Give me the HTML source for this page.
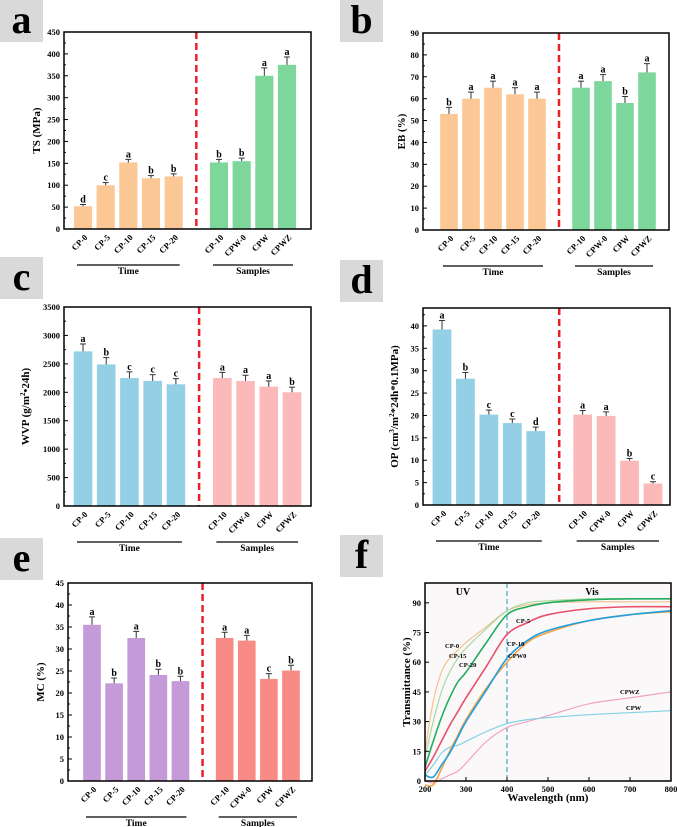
<!DOCTYPE html>
<html><head><meta charset="utf-8"><style>
body{margin:0;background:#fff;}
svg{display:block;font-family:"Liberation Serif",serif;font-weight:bold;}
</style></head><body>
<svg id="fig" width="677" height="827" viewBox="0 0 677 827" xmlns="http://www.w3.org/2000/svg"></svg>
<script>
const cats = ["CP-0","CP-5","CP-10","CP-15","CP-20","CP-10","CPW-0","CPW","CPWZ"];
const tsVals = [52,100,152,116,120,152,155,350,375];
const tsErr = [4,6,7,6,6,7,7,18,18];
const tsSig = ["d","c","a","b","b","b","b","a","a"];
const ebVals = [53,60,65,62,60,65,68,58,72];
const ebErr = [3,3,3,3,3,3,3,3,4];
const ebSig = ["b","a","a","a","a","a","a","b","a"];
const wvpVals = [2720,2490,2250,2200,2140,2250,2200,2100,2000];
const wvpErr = [130,120,110,110,100,100,100,100,90];
const wvpSig = ["a","b","c","c","c","a","a","a","b"];
const opVals = [39.2,28.2,20.2,18.3,16.5,20.2,19.9,9.9,4.8];
const opErr = [2,1.4,1,0.9,0.9,0.9,0.9,0.5,0.4];
const opSig = ["a","b","c","c","d","a","a","b","c"];
const mcVals = [35.5,22.2,32.5,24.1,22.7,32.5,31.9,23.2,25.1];
const mcErr = [1.8,1.2,1.5,1.3,1.1,1.3,1.2,1.2,1.2];
const mcSig = ["a","b","a","b","b","a","a","c","b"];

const wl = [200,220,240,260,280,300,350,400,450,500,600,700,800];
const tCP0 = [15,40,55,62,66,70,78,86,89,90,90.5,90.5,90.5];
const tCP15 = [12,30,45,55,62,67,77,86,90,91,92,92,92];
const tCP20 = [7,20,32,42,50,55,70,84,88,90,91.5,92,92];
const tCP5 = [5,12,20,28,35,42,58,74,80,84,87,88,88];
const tCP10 = [3,2,8,14,22,30,46,62,71,76,81,84,86];
const tCPW0 = [-2,-2,6,15,23,31,47,60,70,75,81,84,85.5];
const tCPW = [3,8,14,17,18,20,25,29,31,32,33.5,34.5,35.5];
const tCPWZ = [0,-1,1,3,5,9,20,27,30,33,39,42,45];

const NS="http://www.w3.org/2000/svg";
const svg=document.getElementById('fig');
function el(tag,attrs,parent,text){const e=document.createElementNS(NS,tag);for(const k in attrs)e.setAttribute(k,attrs[k]);if(text!==undefined)e.textContent=text;(parent||svg).appendChild(e);return e;}

function panelLabel(letter,x,y){
  const g=el('g',{});
  
  
  el('rect',{x:x,y:y,width:43,height:42,fill:'#d9d9d9'},g);
  el('text',{x:x+21.5,y:y+33,'text-anchor':'middle','font-size':40,fill:'#000'},g,letter);
}

function barPanel(name,L,R,T,B,ymax,step,minorStep,vals,errs,sigs,c0,c9,colA,colB,ylabel,ylx){
  const g=el('g',{});
  
  
  const ys=v=>B-(v/ymax)*(B-T);
  const slot=(c9-c0)/9;
  const xs=i=>c0+(i<5?i:i+1)*slot;
  const bw=slot*0.8;
  for(let v=0;v<=ymax+1e-9;v+=minorStep){
    const y=ys(v);
    el('line',{x1:L,x2:L+(Math.abs(v/step-Math.round(v/step))<1e-6?4:2),y1:y,y2:y,stroke:'#000','stroke-width':1},g);
  }
  for(let v=0;v<=ymax+1e-9;v+=step){
    const t=el('text',{x:L-4,y:ys(v)+3,'text-anchor':'end','font-size':8.5},g,String(v));
    
    
  }
  vals.forEach((v,i)=>{
    const x=xs(i);
    const r=el('rect',{x:x-bw/2,y:ys(v),width:bw,height:B-ys(v),fill:i<5?colA:colB},g);
    
    
    const yt=ys(v+errs[i]);
    el('line',{x1:x,x2:x,y1:ys(v),y2:yt,stroke:'#333','stroke-width':1},g);
    el('line',{x1:x-3,x2:x+3,y1:yt,y2:yt,stroke:'#333','stroke-width':1},g);
    const s=el('text',{x:x,y:yt-2,'text-anchor':'middle','font-size':10},g,sigs[i]);
    
    
    const c=el('text',{x:x+5,y:B+9,'text-anchor':'end','font-size':8.5,transform:`rotate(-45 ${x+5} ${B+9})`},g,cats[i]);
    
    
  });
  const dx=c0+5*slot;
  const d=el('line',{x1:dx,x2:dx,y1:T,y2:B,stroke:'#e8202a','stroke-width':2.5,'stroke-dasharray':'7,4'},g);
  
  
  el('rect',{x:L,y:T,width:R-L,height:B-T,fill:'none',stroke:'#000','stroke-width':1.5},g);
  const ly=B+36;
  el('line',{x1:xs(0)-6,x2:xs(4)+6,y1:ly,y2:ly,stroke:'#000','stroke-width':1.2},g);
  el('line',{x1:xs(5)-6,x2:xs(8)+6,y1:ly,y2:ly,stroke:'#000','stroke-width':1.2},g);
  const tt=el('text',{x:(xs(0)+xs(4))/2,y:ly+9,'text-anchor':'middle','font-size':9.5},g,'Time');
  
  
  const st=el('text',{x:(xs(5)+xs(8))/2,y:ly+9,'text-anchor':'middle','font-size':9.5},g,'Samples');
  
  
  const cy=(T+B)/2;
  const yl=el('text',{x:ylx,y:cy,'text-anchor':'middle','font-size':11,transform:`rotate(-90 ${ylx} ${cy})`},g);
  yl.innerHTML=ylabel;
  
  
}

panelLabel('a',0,0);
barPanel('ts',64,311,32,229,450,50,25,tsVals,tsErr,tsSig,83,287,'#fbc795','#7dd79a','TS (MPa)',40);
panelLabel('b',340,0);
barPanel('eb',423,669,33,230,90,10,5,ebVals,ebErr,ebSig,449,647,'#fbc795','#7dd79a','EB (%)',405);
panelLabel('c',0,257);
barPanel('wvp',64,311,307,506,3500,500,250,wvpVals,wvpErr,wvpSig,83,292,'#93cfe5','#fbb9b9','WVP (g/m<tspan baseline-shift="super" font-size="7">2</tspan>•24h)',29);
panelLabel('d',340,260);
barPanel('op',423,670,308,505,44,5,2.5,opVals,opErr,opSig,442,653,'#93cfe5','#fbb9b9','OP (cm<tspan baseline-shift="super" font-size="7">3</tspan>/m<tspan baseline-shift="super" font-size="7">2</tspan>*24h*0.1MPa)',398);
panelLabel('e',0,538);
barPanel('mc',68,312,583,781,45,5,2.5,mcVals,mcErr,mcSig,92,291,'#c59ad9','#f98b87','MC (%)',44);

panelLabel('f',340,535);
(function(){
  const L=425,R=671,T=583,B=781;
  const g=el('g',{});
  
  
  const xs=w=>L+(w-200)/600*(R-L);
  const ys=v=>B-(v/100)*(B-T);
  el('rect',{x:L,y:T,width:R-L,height:B-T,fill:'#fbf8fa'},g);
  const vl=el('line',{x1:xs(400),x2:xs(400),y1:T,y2:B,stroke:'#2a8fc0','stroke-width':1,'stroke-dasharray':'5,3'},g);
  
  
  const series=[[tCPWZ,'#f0a3c4'],[tCPW,'#7fd3e3'],[tCPW0,'#f5a445'],[tCP10,'#1ea0e0'],[tCP5,'#e8506b'],[tCP0,'#f3c38e'],[tCP15,'#a9d9a3'],[tCP20,'#22ad5e']];
  const names=['CPWZ','CPW','CPW0','CP-10','CP-5','CP-0','CP-15','CP-20'];
  series.forEach(([d,c],k)=>{
    const pts=wl.map((w,i)=>[xs(w),ys(d[i])]);
    let p='M'+pts[0][0]+','+pts[0][1];
    for(let i=1;i<pts.length;i++){
      const p0=pts[Math.max(0,i-2)],p1=pts[i-1],p2=pts[i],p3=pts[Math.min(pts.length-1,i+1)];
      p+=` C${p1[0]+(p2[0]-p0[0])/6},${p1[1]+(p2[1]-p0[1])/6} ${p2[0]-(p3[0]-p1[0])/6},${p2[1]-(p3[1]-p1[1])/6} ${p2[0]},${p2[1]}`;
    }
    const path=el('path',{d:p,fill:'none',stroke:c,'stroke-width':(k>=2&&k!=5&&k!=6)?1.6:1.2},g);
    
    
  });
  el('rect',{x:L,y:T,width:R-L,height:B-T,fill:'none',stroke:'#000','stroke-width':1.5},g);
  for(let v=0;v<=90;v+=15){
    el('line',{x1:L,x2:L+4,y1:ys(v),y2:ys(v),stroke:'#000'},g);
    const t=el('text',{x:L-4,y:ys(v)+3,'text-anchor':'end','font-size':8.5},g,String(v));
    
    
  }
  for(let w=200;w<=800;w+=100){
    el('line',{x1:xs(w),x2:xs(w),y1:B,y2:B-4,stroke:'#000'},g);
    const t=el('text',{x:xs(w),y:B+11,'text-anchor':'middle','font-size':8.5},g,String(w));
    
    
  }
  const xt=el('text',{x:(L+R)/2,y:801,'text-anchor':'middle','font-size':11},g,'Wavelength (nm)');
  
  
  const yt=el('text',{x:410,y:(T+B)/2,'text-anchor':'middle','font-size':11,transform:`rotate(-90 410 ${(T+B)/2})`},g,'Transmittance (%)');
  
  
  const uv=el('text',{x:463,y:595,'text-anchor':'middle','font-size':10},g,'UV');
  
  
  const vis=el('text',{x:592,y:595,'text-anchor':'middle','font-size':10},g,'Vis');
  
  
  const labs=[['CP-0',445,648],['CP-15',449,658],['CP-20',459,667],['CP-5',516,623],['CP-10',507,646],['CPW0',508,658],['CPWZ',620,694],['CPW',626,710]];
  labs.forEach(([t,x,y])=>{
    const e=el('text',{x:x,y:y,'font-size':6.5},g,t);
    
    
  });
})();
</script>
</body></html>
